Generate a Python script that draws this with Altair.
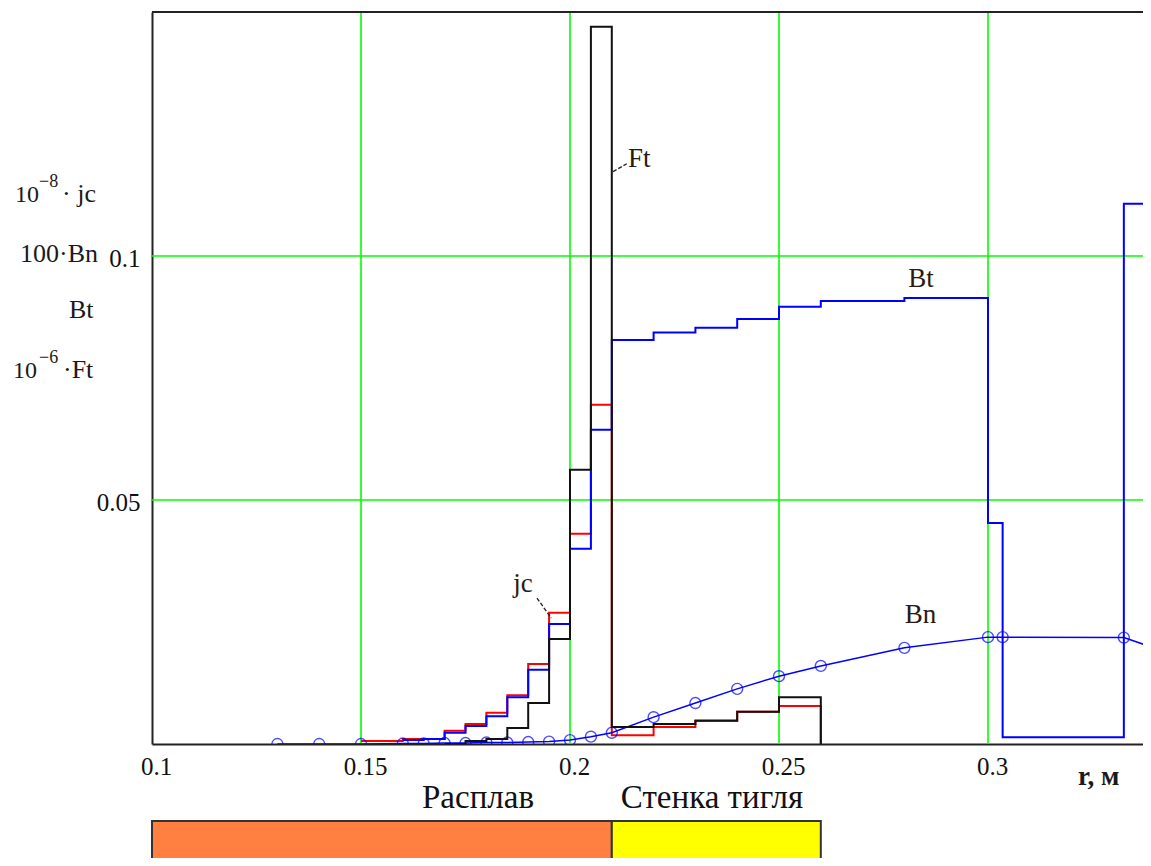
import altair as alt
import pandas as pd

# ---------------- data ----------------
# 1e-8 * jc  (red step line)
jc_r = [0.15, 0.16, 0.165, 0.17, 0.175, 0.18, 0.185, 0.19, 0.195, 0.20, 0.205,
        0.21, 0.22, 0.23, 0.24, 0.25, 0.26]
jc_v = [0.0006, 0.0010, 0.0010, 0.0027, 0.0041, 0.0064, 0.0100, 0.0164, 0.0269, 0.0431, 0.0695,
        0.0018, 0.0035, 0.0047, 0.0066, 0.0078, 0.0]

# 1e-6 * Ft  (black step line)
ft_r = [0.17, 0.175, 0.18, 0.185, 0.19, 0.195, 0.20, 0.205,
        0.21, 0.22, 0.23, 0.24, 0.25, 0.26]
ft_v = [0.0, 0.0006, 0.0010, 0.0033, 0.0084, 0.0215, 0.0562, 0.1470,
        0.0035, 0.0041, 0.0048, 0.0066, 0.0096, 0.0]

# Bt  (blue step line)
bt_r = [0.16, 0.165, 0.17, 0.175, 0.18, 0.185, 0.19, 0.195, 0.20, 0.205,
        0.21, 0.22, 0.23, 0.24, 0.25, 0.26, 0.28, 0.30, 0.3035, 0.3325, 0.345]
bt_v = [0.0008, 0.0010, 0.0023, 0.0037, 0.0057, 0.0096, 0.0152, 0.0246, 0.0400, 0.0644,
        0.0828, 0.0843, 0.0853, 0.0871, 0.0896, 0.0908, 0.0914, 0.0453, 0.0014, 0.1107, 0.1107]

# 100 * Bn  (blue line with open circles)
bn_r = [0.13, 0.14, 0.15, 0.16, 0.165, 0.17, 0.175, 0.18, 0.185, 0.19, 0.195, 0.20, 0.205,
        0.21, 0.22, 0.23, 0.24, 0.25, 0.26, 0.28, 0.30, 0.3035, 0.3325, 0.35]
bn_v = [0.0, 0.0, 0.0, 0.0001, 0.0001, 0.0002, 0.0002, 0.0003, 0.0003, 0.0004, 0.0005, 0.0008, 0.0015,
        0.0023, 0.0055, 0.0084, 0.0113, 0.0139, 0.0160, 0.0197, 0.0219, 0.0219, 0.0218, 0.0167]

x_ticks = [0.1, 0.15, 0.2, 0.25, 0.3]
y_ticks = [0.05, 0.1]
x_grid = [0.15, 0.2, 0.25, 0.3]
y_grid = [0.05, 0.1]

# in-plot labels (data coordinates)
lab_t = ["Ft", "Bt", "Bn", "jc"]
lab_r = [0.2139, 0.2809, 0.2801, 0.1864]
lab_v = [0.1183, 0.0937, 0.0248, 0.0312]

# leader lines
lead_r1 = [0.2103, 0.1921]
lead_r2 = [0.2136, 0.1955]
lead_v1 = [0.1173, 0.0299]
lead_v2 = [0.1189, 0.0258]

# material zones
zone_t = ["Расплав", "Стенка тигля"]
zone_r0 = [0.10, 0.21]
zone_r1 = [0.21, 0.26]
zone_c = ["#ff8040", "#ffff00"]

W, H = 991, 732
X_DOM = [0.1, 0.1 + W / 4180.0]
Y_DOM = [0.0, 0.15]
SERIF = "Liberation Serif"

xs = alt.Scale(domain=X_DOM, nice=False, zero=False)
ys = alt.Scale(domain=Y_DOM, nice=False, zero=False)

x_axis = alt.Axis(values=x_ticks, format="~g", labelFont=SERIF, labelFontSize=25, labelColor="#111",
                  ticks=False, grid=False, domain=True, domainColor="#222", domainWidth=2,
                  labelPadding=10, labelOffset=4, labelFlush=False, labelOverlap=False, title=None)
y_axis = alt.Axis(values=y_ticks, format="~g", labelFont=SERIF, labelFontSize=25, labelColor="#111",
                  ticks=False, grid=False, domain=True, domainColor="#222", domainWidth=2,
                  labelPadding=12, labelOffset=2, labelFlush=False, labelOverlap=False, title=None)


def X(field):
    return alt.X(field, type="quantitative", scale=xs, axis=x_axis)


def Y(field):
    return alt.Y(field, type="quantitative", scale=ys, axis=y_axis)


gx = alt.Chart(pd.DataFrame({"g": x_grid})).mark_rule(color="#00ff00", strokeWidth=1.6).encode(
    x=X("g"))
gy = alt.Chart(pd.DataFrame({"g": y_grid})).mark_rule(color="#00ff00", strokeWidth=1.6).encode(
    y=Y("g"))

top_border = alt.Chart(pd.DataFrame({"a": [0]})).mark_rule(color="#222", strokeWidth=2).encode(
    x=alt.value(0), x2=alt.value(W), y=alt.value(0))


def step(r, v, color, width=2.0):
    return alt.Chart(pd.DataFrame({"r": r, "v": v})).mark_line(
        interpolate="step-after", color=color, strokeWidth=width, clip=True
    ).encode(x=X("r"), y=Y("v"), order="r:Q")


jc_line = step(jc_r, jc_v, "#ff0000")
bt_line = step(bt_r, bt_v, "#0000ff")
ft_line = step(ft_r, ft_v, "#111111")

bn_df = pd.DataFrame({"r": bn_r, "v": bn_v})
bn_line = alt.Chart(bn_df).mark_line(color="#0000ff", strokeWidth=1.5, clip=True).encode(
    x=X("r"), y=Y("v"), order="r:Q")
bn_pts = alt.Chart(bn_df).mark_point(shape="circle", filled=False, size=120, color="#0000ff",
                                     strokeWidth=1.4, clip=True).encode(x=X("r"), y=Y("v"))

labels = alt.Chart(pd.DataFrame({"t": lab_t, "r": lab_r, "v": lab_v})).mark_text(
    align="left", baseline="alphabetic", font=SERIF, fontSize=27, color="#2a1a10"
).encode(x=X("r"), y=Y("v"), text="t:N")

leaders = alt.Chart(pd.DataFrame({"r1": lead_r1, "r2": lead_r2, "v1": lead_v1, "v2": lead_v2})).mark_rule(
    color="#222", strokeWidth=1.3, strokeDash=[4, 2]
).encode(x=X("r1"), x2="r2:Q", y=Y("v1"), y2="v2:Q")

zones_df = pd.DataFrame({"t": zone_t, "r0": zone_r0, "r1": zone_r1, "c": zone_c})
zones = alt.Chart(zones_df).mark_rect(stroke="#333", strokeWidth=2).encode(
    x=X("r0"), x2="r1:Q", y=alt.value(809), y2=alt.value(880),
    color=alt.Color("c:N", scale=None))
zone_txt1 = alt.Chart(zones_df.iloc[[0]]).mark_text(
    align="center", baseline="alphabetic", font=SERIF, fontSize=33, color="#111"
).encode(x=alt.value(326), y=alt.value(796), text="t:N")
zone_txt2 = alt.Chart(zones_df.iloc[[1]]).mark_text(
    align="center", baseline="alphabetic", font=SERIF, fontSize=33, color="#111"
).encode(x=alt.value(560), y=alt.value(796), text="t:N")


def ptext(txt, px, py, size=26, weight="normal", align="left"):
    return alt.Chart(pd.DataFrame({"a": [0]})).mark_text(
        align=align, baseline="alphabetic", font=SERIF, fontSize=size, fontWeight=weight, color="#1a1a1a"
    ).encode(x=alt.value(px), y=alt.value(py), text=alt.value(txt))


ytitle = [
    ptext("10", -137, 190, 24), ptext("\u22128", -113, 175, 18), ptext("\u00b7 jc", -90, 190, 26),
    ptext("100\u00b7Bn", -132, 250, 26),
    ptext("Bt", -83, 306, 26),
    ptext("10", -139, 366, 24), ptext("\u22126", -113, 351, 18), ptext("\u00b7Ft", -89, 366, 26),
]
xtitle = ptext("r,  м", 926, 773, 27, "bold")

chart = alt.layer(
    gx, gy, top_border, jc_line, bn_line, bn_pts, bt_line, ft_line, leaders, labels,
    zones, zone_txt1, zone_txt2, xtitle, *ytitle
).properties(
    width=W, height=H,
    autosize=alt.AutoSizeParams(type="none"),
    padding={"left": 144, "top": 4, "right": 0, "bottom": 114},
    background="white",
).configure_view(stroke=None)

chart.save("out.html", embed_options={"renderer": "svg", "actions": False})
